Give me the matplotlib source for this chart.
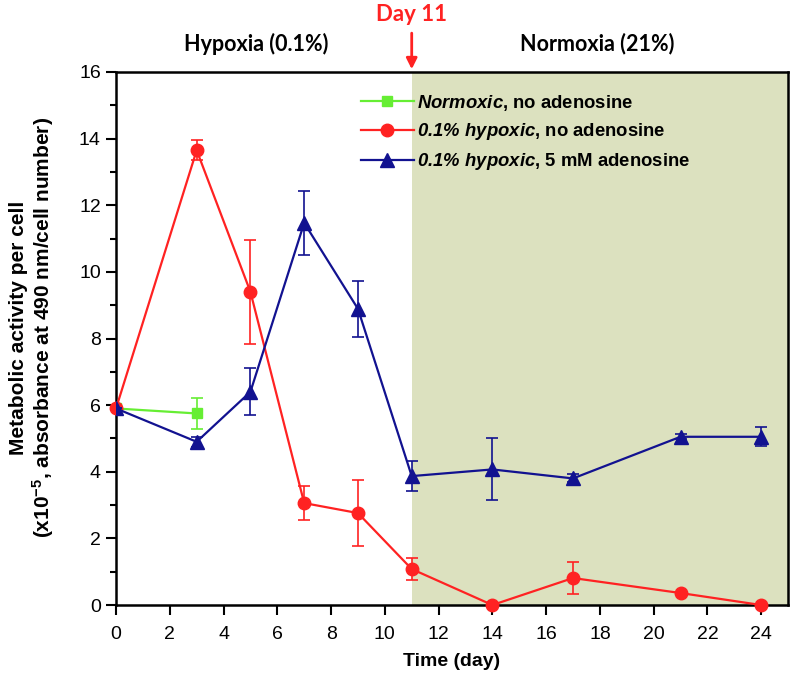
import matplotlib
matplotlib.use("Agg")
import matplotlib.pyplot as plt
from matplotlib.lines import Line2D
from matplotlib.ticker import MultipleLocator

plt.rcParams['font.family'] = 'Liberation Sans'
plt.rcParams['mathtext.fontset'] = 'custom'
plt.rcParams['mathtext.rm'] = 'Liberation Sans:bold'
plt.rcParams['mathtext.bfit'] = 'Liberation Sans:bold:italic'
plt.rcParams['mathtext.it'] = 'Liberation Sans:bold:italic'

# Data
days_norm = [0, 3]
norm_vals = [5.9, 5.75]
norm_err = [0, 0.47]

days = [0, 3, 5, 7, 9, 11, 14, 17, 21, 24]
hyp_vals = [5.9, 13.65, 9.4, 3.06, 2.76, 1.08, 0.0, 0.81, 0.36, 0.0]
hyp_err = [0, 0.3, 1.56, 0.5, 1.0, 0.33, 0, 0.48, 0, 0]
aden_vals = [5.9, 4.9, 6.4, 11.47, 8.89, 3.87, 4.07, 3.8, 5.05, 5.05]
aden_err = [0, 0.15, 0.7, 0.95, 0.85, 0.44, 0.93, 0.12, 0.08, 0.29]

switch_day = 11
labels = [r'$\mathbfit{Normoxic}$, no adenosine',
          r'$\mathbfit{0.1\%\ hypoxic}$, no adenosine',
          r'$\mathbfit{0.1\%\ hypoxic}$, 5 mM adenosine']

fig = plt.figure(figsize=(7.92, 6.76), dpi=100)
ax = fig.add_axes([0.1465, 0.105, 0.8485, 0.7885])

ax.axvspan(switch_day, 25, color='#dce1bf', zorder=0, lw=0)

green = '#66ee33'
red = '#ff2222'
blue = '#121290'

ax.errorbar(days_norm, norm_vals, yerr=norm_err, color=green, marker='s', ms=7.5,
            lw=1.6, capsize=4, elinewidth=1.2, capthick=1.2, zorder=3)
ax.errorbar(days, hyp_vals, yerr=hyp_err, color=red, marker='o', ms=9,
            lw=1.6, capsize=4, elinewidth=1.2, capthick=1.2, zorder=3,
            clip_on=False)
ax.errorbar(days, aden_vals, yerr=aden_err, color=blue, marker='^', ms=10,
            lw=1.6, capsize=4, elinewidth=1.2, capthick=1.2, zorder=4)

ax.set_xlim(0, 25)
ax.set_ylim(0, 16)
ax.set_xticks(range(0, 25, 2))
ax.yaxis.set_major_locator(MultipleLocator(2))
ax.yaxis.set_minor_locator(MultipleLocator(1))
ax.tick_params(axis='both', which='major', direction='out', length=7, width=1.5,
               labelsize=14)
ax.tick_params(axis='x', pad=8)
ax.tick_params(axis='y', pad=4)
ax.tick_params(axis='y', which='minor', direction='out', length=4, width=1.5)
for s in ax.spines.values():
    s.set_linewidth(1.8)

ax.set_xlabel('Time (day)', fontsize=14, fontweight='bold', labelpad=7)
ax.set_ylabel('Metabolic activity per cell\n'
              r'(x10$^{-5}$, absorbance at 490 nm/cell number)',
              fontsize=15, fontweight='bold', linespacing=1.1)
ax.yaxis.set_label_coords(-0.09, 0.52)

handles = [Line2D([], [], color=green, marker='s', ms=7.5, lw=1.6),
           Line2D([], [], color=red, marker='o', ms=9, lw=1.6),
           Line2D([], [], color=blue, marker='^', ms=10, lw=1.6)]
leg = ax.legend(handles, labels, loc='upper left', bbox_to_anchor=(0.353, 0.975),
                frameon=False, fontsize=13.3, handlelength=2.9, handletextpad=0.15,
                labelspacing=0.47, borderaxespad=0)
for t in leg.get_texts():
    t.set_fontweight('bold')

# Annotations above the plot
ax.annotate('', xy=(switch_day, 16), xytext=(switch_day, 17.25),
            arrowprops=dict(arrowstyle='-|>', color=red, lw=2, mutation_scale=16),
            annotation_clip=False)
ax.text(switch_day, 17.4, 'Day 11', color=red, ha='center', va='bottom',
        fontsize=16, fontweight='bold', family='Lato')
ax.text(5.2, 16.85, 'Hypoxia (0.1%)', ha='center', va='center',
        fontsize=15.5, fontweight='bold', family='Lato')
ax.text(17.9, 16.85, 'Normoxia (21%)', ha='center', va='center',
        fontsize=15.5, fontweight='bold', family='Lato')

fig.savefig('out.png', dpi=100)
